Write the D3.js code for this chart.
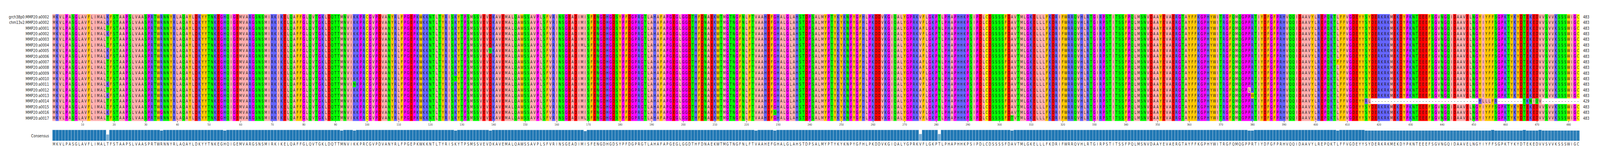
<!DOCTYPE html>
<html>
<head>
<meta charset="utf-8">
<script src="https://cdn.jsdelivr.net/npm/d3@7"></script>
<style>
  html, body { margin: 0; padding: 0; background: #fff; width: 100%; height: 100%; overflow: hidden; }
  svg { display: block; width: 100vw; height: 100vh; }
  text { font-family: "DejaVu Sans", sans-serif; }
</style>
</head>
<body>
<svg id="chart" viewBox="0 0 5100 409" preserveAspectRatio="none"></svg>
<script>
// sequence names, top to bottom
const names = [
  'grch38p0:MMP20:a0002', 'chm13v2:MMP20:a0002',
  'MMP20:a0001', 'MMP20:a0002', 'MMP20:a0003', 'MMP20:a0004', 'MMP20:a0005',
  'MMP20:a0006', 'MMP20:a0007', 'MMP20:a0008', 'MMP20:a0009', 'MMP20:a0010',
  'MMP20:a0011', 'MMP20:a0012', 'MMP20:a0013', 'MMP20:a0014', 'MMP20:a0015',
  'MMP20:a0016', 'MMP20:a0017'
];

// shared backbone (columns 1..483), read in blocks
const baseBlocks = [
  'MKVLPASGLAVFLIMALTFSTAA',
  'PSLVAASPRTWRNNYRLAQAYLDKYYTNKEGHQIGEMVARGSN',
  'SMIRKIKELQAFFGLQVTGKLDQTTMNVIKKPRCGVPDVANYR',
  'LFPGEPKWKKNTLTYRISKYTPSMSSVEVDKAVEMALQAWSS',
  'AVPLSFVRINSGEADIMISFENGDHGDSYPFDGPRGTLAHAFA',
  'PGEGLGGDTHFDNAEKWTMGTNGFNLFTVAAHEFGHALGLAH',
  'STDPSALMYPTYKYKNPYGFHLPKDDVKGIQALYGPRKVFLGK',
  'PTLPHAPHHKPSIPDLCDSSSSFDAVTMLGKELLLFKDRIFWR',
  'RQVHLRTGIRPSTITSSFPQLMSNVDAAYEVAERGTAYFFKG',
  'PHYWITRGFQMQGPPRTIYDFGFPRHVQQIDAAVYLREPQKTL',
  'FFVGDEYYSYDERKRKMEKDYPKNTEEEFSGVNGQIDAAVELN',
  'GYIYFFSGPKTYKYDTEKEDVVSVVKSSSWIGC'
];

// point differences: [column, row indexes, residue]
const variants = [
  [18,  [0, 1, 3, 6, 7, 12, 14, 17], 'K'],
  [35,  [17], 'G'],
  [55,  [9], 'R'],
  [92,  [10], 'V'],
  [96,  [12], 'N'],
  [128, [11], 'T'],
  [139, [6], 'N'],
  [169, [5, 18], 'L'],
  [223, [16], 'I'],
  [229, [17], 'S'],
  [275, [2, 7, 8, 9, 11, 13, 16], 'A'],
  [281, [2, 7, 8, 9, 11, 13, 16], 'N'],
  [304, [18], 'T'],
  [379, [13], 'L'],
  [380, [14], 'W'],
  [407, [8], 'F']
];

// MMP20:a0014 (row 15) runs off the backbone from column 416
const truncRow = 15;
const truncStart = 416;
const truncTail = 'RL' + '-'.repeat(33) + '-HLLLFR' + '-'.repeat(8) + 'TKNIQV' + '-'.repeat(12);

const tickValues = d3.range(10, 481, 10);

const zappo = {
  A: '#ffafaf', I: '#ffafaf', L: '#ffafaf', M: '#ffafaf', V: '#ffafaf',
  F: '#ffc800', W: '#ffc800', Y: '#ffc800',
  K: '#6464ff', R: '#6464ff', H: '#6464ff',
  D: '#ff0000', E: '#ff0000',
  S: '#00ff00', T: '#00ff00', N: '#00ff00', Q: '#00ff00',
  P: '#ff00ff', G: '#ff00ff',
  C: '#ffff00', '-': '#ffffff'
};

// build rows
const base = baseBlocks.join('');
const seqs = names.map(() => base.split(''));
variants.forEach(([col, rows, aa]) => rows.forEach(r => { seqs[r][col - 1] = aa; }));
truncTail.split('').forEach((aa, i) => { seqs[truncRow][truncStart - 1 + i] = aa; });
const nCol = base.length;
const cols = d3.range(1, nCol + 1);

// consensus per column
const consensus = cols.map(c => {
  const counts = d3.rollup(seqs.map(s => s[c - 1]).filter(a => a !== '-'), v => v.length, d => d);
  let best = '-', n = 0;
  counts.forEach((v, k) => { if (v > n) { n = v; best = k; } });
  return { col: c, aa: best, frac: n / seqs.length };
});

const svg = d3.select('#chart');
const x = d3.scaleBand().domain(cols).range([167, 5035]);
const y = d3.scaleBand().domain(d3.range(names.length)).range([36, 309]);

const cells = [];
seqs.forEach((s, r) => s.forEach((aa, i) => cells.push({ r, col: i + 1, aa })));

svg.append('g').selectAll('rect').data(cells).enter().append('rect')
  .attr('x', d => x(d.col)).attr('y', d => y(d.r))
  .attr('width', x.bandwidth() + 0.3).attr('height', y.bandwidth() + 0.3)
  .attr('fill', d => zappo[d.aa] || '#fff');

svg.append('g').selectAll('text').data(cells).enter().append('text')
  .attr('x', d => x(d.col) + x.bandwidth() / 2)
  .attr('y', d => y(d.r) + y.bandwidth() / 2)
  .attr('dy', '0.36em').attr('text-anchor', 'middle')
  .attr('font-size', 10).attr('fill', '#1a1a1a')
  .text(d => d.aa);

// names & lengths
svg.append('g').selectAll('text').data(names).enter().append('text')
  .attr('x', 156).attr('y', (d, i) => y(i) + y.bandwidth() / 2)
  .attr('dy', '0.36em').attr('text-anchor', 'end')
  .attr('font-size', 10.5).attr('fill', '#222').text(d => d);

svg.append('g').selectAll('text').data(seqs).enter().append('text')
  .attr('x', 5046).attr('y', (d, i) => y(i) + y.bandwidth() / 2)
  .attr('dy', '0.36em').attr('font-size', 10.5).attr('fill', '#222')
  .text(s => s.filter(a => a !== '-').length);

// position axis
const xPos = d3.scaleLinear().domain([0.5, nCol + 0.5]).range([167, 5035]);
const axis = svg.append('g').attr('transform', 'translate(0,309)')
  .call(d3.axisBottom(xPos).tickValues(tickValues).tickSize(4).tickPadding(3));
axis.select('.domain').remove();
axis.selectAll('text').attr('font-size', 7.5).attr('fill', '#333')
  .attr('font-family', '"DejaVu Sans", sans-serif');
axis.selectAll('line').attr('stroke', '#333');

// consensus bars
const yBar = d3.scaleLinear().domain([0, 1]).range([360, 332]);
svg.append('g').selectAll('rect').data(consensus).enter().append('rect')
  .attr('x', d => x(d.col)).attr('y', d => yBar(d.frac))
  .attr('width', x.bandwidth()).attr('height', d => 360 - yBar(d.frac))
  .attr('fill', '#1f77b4').attr('fill-opacity', d => d.frac)
  .attr('stroke', '#dfe9f2').attr('stroke-width', 0.6);

svg.append('g').selectAll('text').data(consensus).enter().append('text')
  .attr('x', d => x(d.col) + x.bandwidth() / 2).attr('y', 368)
  .attr('dy', '0.36em').attr('text-anchor', 'middle')
  .attr('font-size', 10).attr('fill', '#333').text(d => d.aa);

svg.append('text').attr('x', 156).attr('y', 347).attr('dy', '0.36em')
  .attr('text-anchor', 'end').attr('font-size', 10.5).attr('fill', '#222')
  .text('Consensus');
</script>
</body>
</html>
